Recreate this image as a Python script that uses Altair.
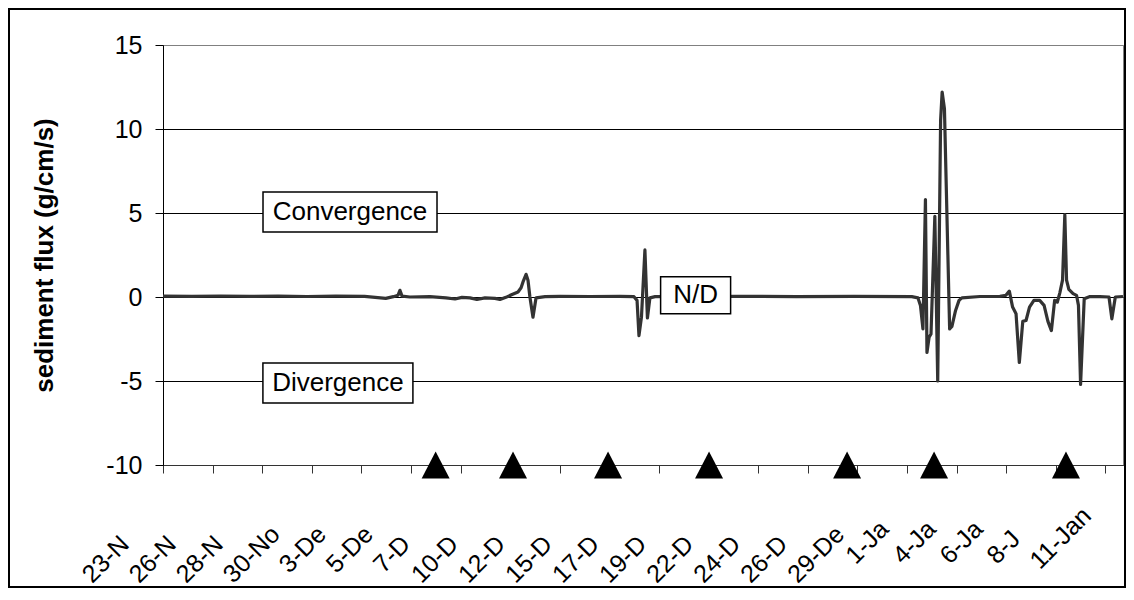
import json
import altair as alt
import pandas as pd

# ---- data (days since 23-Nov, sediment flux in g/cm/s) ----
day = [0.00, 1.50, 3.00, 4.50, 6.00, 7.50, 9.00, 10.50, 11.60, 12.00,
       12.24, 12.34, 12.45, 12.86, 13.90, 14.74, 15.21, 15.57, 15.99, 16.35,
       16.77, 17.29, 17.55, 17.86, 18.18, 18.49, 18.65, 18.75, 18.91, 19.01,
       19.11, 19.27, 19.43, 19.90, 20.68, 22.24, 23.80, 24.53, 24.69, 24.79,
       24.92, 25.10, 25.23, 25.36, 25.63, 27.00, 30.00, 33.00, 36.00, 39.00,
       39.32, 39.45, 39.58, 39.71, 39.79, 39.90, 40.00, 40.20, 40.35, 40.50,
       40.58, 40.70, 40.97, 41.09, 41.28, 41.46, 41.61, 42.55, 43.59, 43.90,
       44.08, 44.25, 44.43, 44.60, 44.78, 44.95, 45.13, 45.36, 45.66, 45.89,
       46.09, 46.27, 46.44, 46.58, 46.71, 46.85, 46.97, 47.06, 47.18, 47.40,
       47.58, 47.68, 47.79, 47.98, 48.28, 48.80, 49.27, 49.42, 49.60, 50.00]
flux = [0.05, 0.04, 0.06, 0.04, 0.05, 0.03, 0.05, 0.04, -0.08, 0.02,
        0.10, 0.40, 0.05, 0.00, 0.02, -0.05, -0.12, -0.02, -0.05, -0.15,
        -0.05, -0.08, -0.15, -0.02, 0.15, 0.30, 0.55, 0.90, 1.35, 1.00,
        0.00, -1.20, -0.05, 0.02, 0.04, 0.03, 0.04, 0.02, -0.20, -2.30,
        -1.20, 2.80, -1.25, -0.05, 0.02, 0.03, 0.04, 0.02, 0.04, 0.02,
        -0.05, -0.50, -1.90, 5.80, -3.30, -2.40, -2.20, 4.80, -5.00, 10.50,
        12.20, 11.20, -1.90, -1.75, -0.80, -0.20, -0.05, 0.03, 0.04, 0.10,
        0.35, -0.60, -1.00, -3.90, -1.45, -1.40, -0.60, -0.20, -0.20, -0.50,
        -1.45, -2.00, -0.20, -0.30, 0.25, 1.00, 4.90, 1.00, 0.45, 0.20,
        0.10, -0.50, -5.20, -0.10, 0.03, 0.02, 0.00, -1.30, 0.00, 0.03]

tick_days = [0.0, 2.58, 5.17, 7.75, 10.33, 12.92, 15.5, 18.08, 20.67, 23.25,
             25.83, 28.42, 31.0, 33.58, 36.17, 38.75, 41.33, 43.92, 46.5, 49.08]
label_days = [0.0, 2.45, 4.9, 7.35, 9.8, 12.25, 14.7, 17.15, 19.6, 22.05, 24.5,
              26.95, 29.4, 31.85, 34.3, 36.75, 39.2, 41.65, 44.1, 46.55, 49.0]
label_text = ["23-N", "26-N", "28-N", "30-No", "3-De", "5-De", "7-D", "10-D",
              "12-D", "15-D", "17-D", "19-D", "22-D", "24-D", "26-D", "29-De",
              "1-Ja", "4-Ja", "6-Ja", "8-J", "11-Jan"]
# labels that Excel drew higher (shorter full date text)
dec_short_days = [9.8, 12.25, 14.7]
jan_short_days = [39.2, 41.65, 44.1, 46.55]
last_label_days = [49.0]
y_ticks = [-10, -5, 0, 5, 10, 15]

triangle_days = [14.2, 18.23, 23.18, 28.44, 35.63, 40.16, 47.03]
triangle_flux = [-10, -10, -10, -10, -10, -10, -10]

note_text = ["Convergence", "Divergence", "N/D"]
note_day = [9.74, 9.11, 27.74]
note_flux = [5.06, -5.12, 0.10]

FONT = "Liberation Sans"
x_scale = alt.Scale(domain=[0, 50], nice=False, zero=False)
y_scale = alt.Scale(domain=[-10, 15], nice=False, zero=False)

series = pd.DataFrame({"day": day, "flux": flux})

# outer chart-area border
frame = alt.Chart(pd.DataFrame({"k": [0]})).mark_rect(
    fill="transparent", stroke="black", strokeWidth=2
).encode(x=alt.value(-154), x2=alt.value(962), y=alt.value(-36), y2=alt.value(542))

line = alt.Chart(series).mark_line(
    color="#333333", strokeWidth=3.2, strokeJoin="round"
).encode(
    x=alt.X("day:Q", scale=x_scale, axis=alt.Axis(
        orient="bottom", values=tick_days, labels=False, ticks=True, tickSize=8,
        tickColor="#333333", domainColor="#333333", grid=False, title=None)),
    y=alt.Y("flux:Q", scale=y_scale, axis=alt.Axis(
        orient="left", values=y_ticks, labelExpr="toString(datum.value)",
        title="sediment flux (g/cm/s)", titleFont=FONT,
        titleFontSize=26, titleFontWeight="bold", titleColor="black", titlePadding=48,
        labelFont=FONT, labelFontSize=25, labelColor="black", labelPadding=13,
        tickSize=8, tickColor="black", domainColor="black", grid=True,
        gridColor=alt.condition("datum.value == 15", alt.value("#808080"), alt.value("black")),
        gridWidth=1)),
)


def note(i, w, h):
    df = pd.DataFrame({"day": [note_day[i]], "flux": [note_flux[i]], "t": [note_text[i]]})
    path = f"M{-w/2},{-h/2}L{w/2},{-h/2}L{w/2},{h/2}L{-w/2},{h/2}Z"
    enc = dict(x=alt.X("day:Q", scale=x_scale, axis=None),
               y=alt.Y("flux:Q", scale=y_scale, axis=None))
    box = alt.Chart(df).mark_point(shape=path, size=4, filled=True, fill="white",
                                   stroke="black", strokeWidth=1.5, opacity=1).encode(**enc)
    txt = alt.Chart(df).mark_text(font=FONT, fontSize=26, color="black", align="center",
                                  baseline="middle").encode(text="t:N", **enc)
    return box + txt


notes = note(0, 174, 40) + note(1, 150, 40) + note(2, 70, 37)

label_expr = f"{json.dumps(label_text)}[indexof({json.dumps(label_days)}, datum.value)]"


def in_list(vals):
    return f"indexof({json.dumps(vals)}, datum.value) >= 0"


label_pad = {
    "condition": [
        {"test": in_list(jan_short_days), "value": 94},
        {"test": in_list(dec_short_days), "value": 103},
        {"test": in_list(last_label_days), "value": 99},
    ],
    "value": 113,
}
label_off = {
    "condition": [
        {"test": in_list(jan_short_days), "value": -66},
        {"test": in_list(dec_short_days), "value": -68},
        {"test": in_list(last_label_days), "value": -70},
    ],
    "value": -77,
}

tri_df = pd.DataFrame({"day": triangle_days, "flux": triangle_flux})
triangles = alt.Chart(tri_df).mark_point(
    shape="M0,-13.5L14,13.5L-14,13.5Z", size=4, filled=True, color="black", opacity=1
).encode(
    x=alt.X("day:Q", scale=x_scale, axis=alt.Axis(
        orient="bottom", values=label_days, labelExpr=label_expr, ticks=False, tickSize=0,
        domain=False, grid=False, labelAngle=315, labelAlign="left", labelBaseline="middle",
        labelPadding=label_pad, labelOffset=label_off, labelFont=FONT, labelFontSize=25,
        labelColor="black", labelOverlap=False, labelFlush=False, labelBound=False,
        title=None)),
    y=alt.Y("flux:Q", scale=y_scale, axis=None),
)

chart = alt.layer(frame, line, notes, triangles).resolve_axis(
    x="independent", y="independent"
).properties(
    width=960, height=420, padding=0, background="white"
).configure_view(stroke="#808080", strokeWidth=1)

chart.save("out.html", embed_options={"renderer": "svg", "actions": False})
